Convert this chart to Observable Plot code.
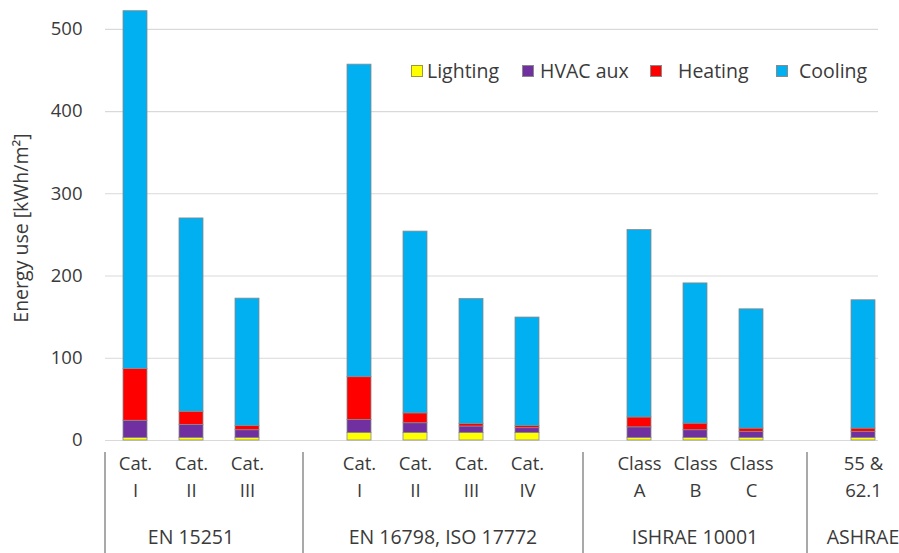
<!DOCTYPE html>
<html>
<head>
<meta charset="utf-8">
<script src="https://cdn.jsdelivr.net/npm/d3@7"></script>
<script src="https://cdn.jsdelivr.net/npm/@observablehq/plot@0.6"></script>
<style>
  body { margin: 0; background: #fff; font-family: "Open Sans", sans-serif; }
  #wrap { position: relative; width: 899px; height: 553px; overflow: hidden; }
  .lg { position: absolute; top: 57px; display: flex; align-items: center; font-size: 19.5px; color: #3a3a3a; white-space: nowrap; }
  .sw { width: 12px; height: 12px; box-sizing: border-box; border: 1px solid #8a8a8a; display: inline-block; }
</style>
</head>
<body>
<div id="wrap"></div>
<script>
// ---- data ----
const groups = ["EN 15251", "EN 16798, ISO 17772", "ISHRAE 10001", "ASHRAE"];
const groupOf = [0, 0, 0, 1, 1, 1, 1, 2, 2, 2, 3];
const tickTop = ["Cat.", "Cat.", "Cat.", "Cat.", "Cat.", "Cat.", "Cat.", "Class", "Class", "Class", "55 &"];
const tickBottom = ["I", "II", "III", "I", "II", "III", "IV", "A", "B", "C", "62.1"];
const series = ["Lighting", "HVAC aux", "Heating", "Cooling"];
const colors = ["#FFFF00", "#7030A0", "#FF0000", "#00B0F0"];
const lighting = [3, 3, 3, 9, 9, 9, 9, 3, 3, 3, 3];
const hvacAux  = [21, 16, 9.5, 16, 12, 8, 6, 13, 9.5, 7.5, 7.5];
const heating  = [63, 16, 5, 52, 12, 3, 2.5, 12, 8, 4, 4];
const cooling  = [435, 235, 155, 380, 221, 152, 132, 228, 170.5, 145, 156];
const yTicks = [0, 100, 200, 300, 400, 500];

// ---- build ----
const ids = tickBottom.map((b, i) => groups[groupOf[i]] + "|" + b);
const xDomain = [];
ids.forEach((id, i) => {
  if (i > 0 && groupOf[i] !== groupOf[i - 1]) xDomain.push("gap" + groupOf[i]);
  xDomain.push(id);
});
const values = [lighting, hvacAux, heating, cooling];
const rows = [];
ids.forEach((id, i) => series.forEach((s, k) => rows.push({id, series: s, value: values[k][i]})));
const cats = ids.map((id, i) => ({id, top: tickTop[i], bottom: tickBottom[i]}));

const W = 899, H = 553, ML = 105, MR = 21, MB = 113;
const txt = "#3a3a3a";

const plot = Plot.plot({
  width: W, height: H,
  marginLeft: ML, marginRight: MR, marginTop: 0, marginBottom: MB,
  style: {fontFamily: "Open Sans", fontSize: "18px", color: txt, background: "#fff"},
  x: {type: "band", domain: xDomain, range: [ML, 893], padding: 0, axis: null},
  y: {domain: [0, 535], axis: null},
  color: {domain: series, range: colors},
  marks: [
    Plot.gridY(yTicks, {stroke: "#d9d9d9", strokeOpacity: 1, strokeWidth: 1.2}),
    Plot.axisY(yTicks, {tickSize: 0, tickPadding: 23, label: null, fontSize: 18.5, fill: txt}),
    Plot.barY(rows, {x: "id", y: "value", fill: "series", stroke: "#8a8a8a", strokeWidth: 0.8, insetLeft: 16, insetRight: 16}),
    Plot.text(cats, {x: "id", text: "top", frameAnchor: "bottom", dy: 29, fontSize: 18.5, fill: txt}),
    Plot.text(cats, {x: "id", text: "bottom", frameAnchor: "bottom", dy: 56, fontSize: 18.5, fill: txt})
  ]
});

const svg = d3.select(plot);
const x = plot.scale("x");
const bw = x.bandwidth;
// separators
const sepX = [x.range[0]].concat(xDomain.filter(d => d.startsWith("gap")).map(d => x.apply(d) + bw / 2));
svg.append("g").selectAll("line").data(sepX).join("line")
  .attr("x1", d => d).attr("x2", d => d).attr("y1", 452).attr("y2", H)
  .attr("stroke", "#8c8c8c").attr("stroke-width", 1.5);
// group labels
svg.append("g").selectAll("text").data(groups).join("text")
  .attr("x", (g, gi) => {
    const xs = ids.filter((id, i) => groupOf[i] === gi).map(id => x.apply(id) + bw / 2);
    return (d3.min(xs) + d3.max(xs)) / 2;
  })
  .attr("y", 544).attr("text-anchor", "middle")
  .attr("font-family", "Open Sans").attr("font-size", 19.5).attr("fill", txt)
  .text(d => d);
// y label
svg.append("text")
  .attr("transform", "translate(28,228) rotate(-90)")
  .attr("text-anchor", "middle").attr("font-family", "Open Sans").attr("font-size", 19.5).attr("fill", txt)
  .text("Energy use [kWh/m²]");

const wrap = document.getElementById("wrap");
wrap.appendChild(plot);

// legend
const legendLeft = [411, 522, 650, 776];
const legendGap = [4, 6, 16, 11];
series.forEach((s, k) => {
  const item = document.createElement("div");
  item.className = "lg";
  item.style.left = legendLeft[k] + "px";
  const sw = document.createElement("span");
  sw.className = "sw";
  sw.style.background = colors[k];
  sw.style.marginRight = legendGap[k] + "px";
  if (k === 0) sw.style.borderColor = "#9a9a30";
  const t = document.createElement("span");
  t.textContent = s;
  item.appendChild(sw); item.appendChild(t);
  wrap.appendChild(item);
});
</script>
</body>
</html>
